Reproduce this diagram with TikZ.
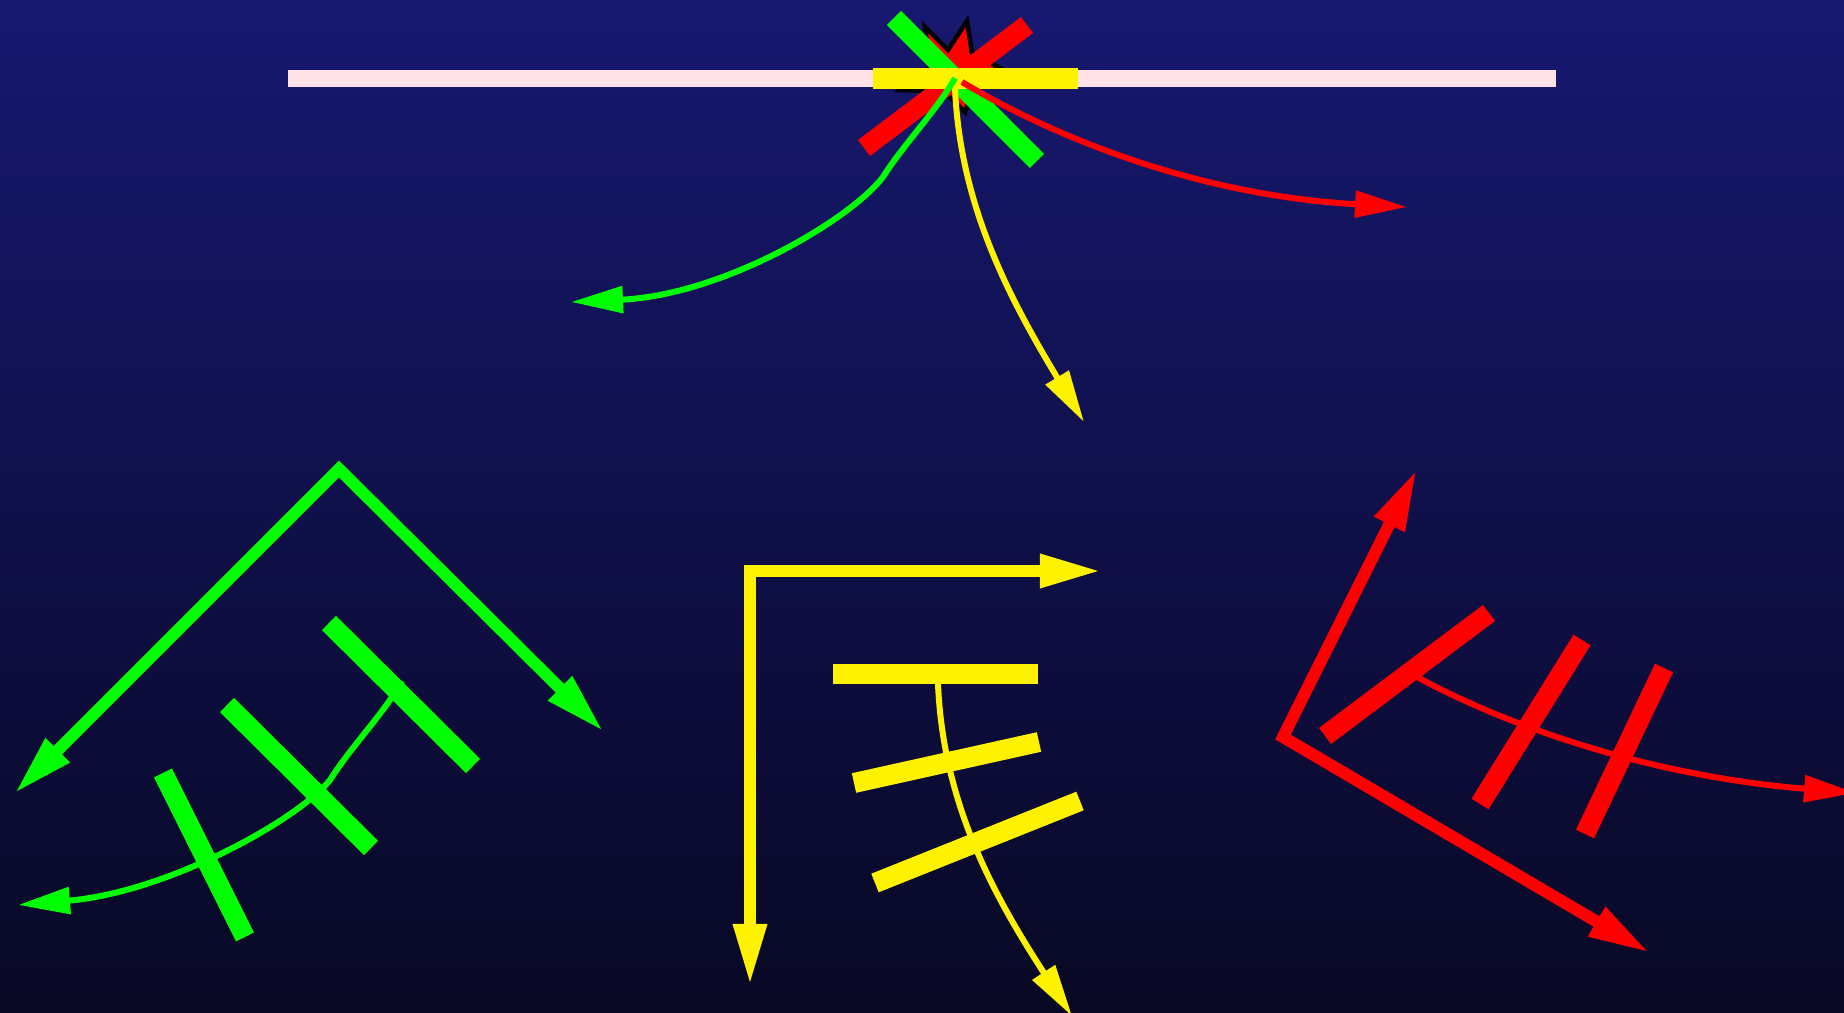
\documentclass[tikz,border=0pt]{standalone}
\usetikzlibrary{arrows.meta}
\definecolor{bgtop}{RGB}{23,24,112}
\definecolor{bgbot}{RGB}{8,8,36}
\definecolor{rail}{RGB}{255,226,232}
\tikzset{
  frameline/.style={line width=1.2mm,line join=miter,
    {Triangle[length=6.2mm,width=3.1mm]}-{Triangle[length=6.2mm,width=3.1mm]}},
  thickbar/.style={line width=2mm},
  sweep/.style={line width=0.6mm,line join=round,-{Triangle[length=5.2mm,width=2.6mm]}}
}

\begin{document}
\begin{tikzpicture}[x=0.01cm,y=-0.01cm]
  \useasboundingbox (0,0) rectangle (1844,1013);
  \clip (0,0) rectangle (1844,1013);
  \shade[top color=bgtop,bottom color=bgbot] (0,0) rectangle (1844,1013);

  % top row
  \coordinate (L1) at (288,79);
  \coordinate (L2) at (1556,79);
  \draw[rail,line width=1.7mm] (L1)--(L2);
  \filldraw[red,draw=black,line width=0.45mm] (967,21)--(972,53)--(1000,68)--(975,85)--(965,112)
    --(945,92)--(900,90)--(930,68)--(925,27)--(948,50)--cycle;
  \coordinate (TR1) at (864,148);
  \coordinate (TR2) at (1027,25);
  \coordinate (TG1) at (894,18);
  \coordinate (TG2) at (1037,161);
  \coordinate (TY1) at (873,78.5);
  \coordinate (TY2) at (1078,78.5);
  \draw[thickbar,red] (TR1)--(TR2);
  \draw[thickbar,green] (TG1)--(TG2);
  \draw[yellow,line width=2.1mm] (TY1)--(TY2);
  \coordinate (TY) at (955,88);
  \coordinate (TR) at (962,82);
  \coordinate (TG) at (955,78);
  \draw[sweep,yellow] (TY) .. controls (960,204) and (1008,296) .. (1084,422);
  \draw[sweep,red] (TR) .. controls (1045,132) and (1190,195) .. (1407,207);
  \draw[sweep,green] (TG) .. controls (938,109) and (903,145) .. (883,177)
    .. controls (850,220) and (723,295) .. (571,302);

  % green
  \coordinate (G0) at (339,469);
  \coordinate (GL) at (14,794);
  \coordinate (GR) at (604,732);
  \draw[frameline,green] (GL)--(G0)--(GR);
  \draw[thickbar,green] (329,623)--(473,766);
  \draw[thickbar,green] (227,705)--(371,848);
  \draw[thickbar,green] (163,773)--(245,937);
  \draw[sweep,green] (402,681) .. controls (385,712) and (350,748) .. (330,780)
    .. controls (300,818) and (170,892) .. (18,905);

  % yellow
  \coordinate (Y0) at (750,571);
  \coordinate (YR) at (1102,571);
  \coordinate (YD) at (750,986);
  \draw[frameline,yellow] (YR)--(Y0)--(YD);
  \draw[thickbar,yellow] (833,674)--(1038,674);
  \draw[thickbar,yellow] (854,783)--(1039,742);
  \draw[thickbar,yellow] (875,883)--(1080,801);
  \draw[sweep,yellow] (938,684) .. controls (943,800) and (990,890) .. (1072,1016);

  % red
  \coordinate (R0) at (1283,737);
  \coordinate (RU) at (1417,469);
  \coordinate (RD) at (1650,953);
  \draw[frameline,red] (RU)--(R0)--(RD);
  \draw[thickbar,red] (1325,736)--(1489,613);
  \draw[thickbar,red] (1582,640)--(1480,804);
  \draw[thickbar,red] (1664,668)--(1585,834);
  \draw[sweep,red] (1417,677) .. controls (1500,722) and (1640,775) .. (1856,793);
\end{tikzpicture}
\end{document}
